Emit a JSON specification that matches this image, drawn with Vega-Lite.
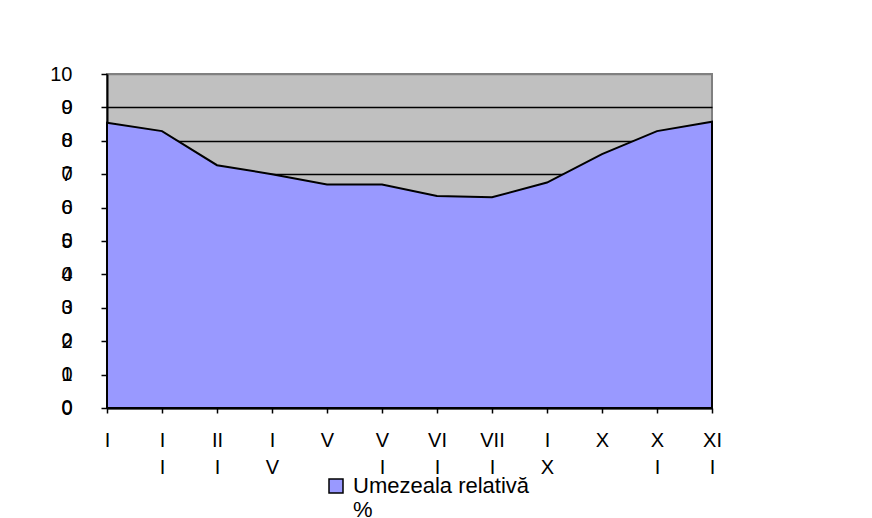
{
  "$schema": "https://vega.github.io/schema/vega-lite/v6.json",
  "width": 605,
  "height": 334,
  "autosize": {"type": "none"},
  "padding": {"left": 107, "top": 74, "right": 160, "bottom": 110},
  "background": "white",
  "data": {
    "values": [
      {"month": "I", "humidity": 85.4, "series": "Umezeala relativă %"},
      {"month": "II", "humidity": 82.9, "series": "Umezeala relativă %"},
      {"month": "III", "humidity": 72.7, "series": "Umezeala relativă %"},
      {"month": "IV", "humidity": 70.0, "series": "Umezeala relativă %"},
      {"month": "V", "humidity": 66.9, "series": "Umezeala relativă %"},
      {"month": "VI", "humidity": 66.9, "series": "Umezeala relativă %"},
      {"month": "VII", "humidity": 63.5, "series": "Umezeala relativă %"},
      {"month": "VIII", "humidity": 63.1, "series": "Umezeala relativă %"},
      {"month": "IX", "humidity": 67.5, "series": "Umezeala relativă %"},
      {"month": "X", "humidity": 76.0, "series": "Umezeala relativă %"},
      {"month": "XI", "humidity": 82.9, "series": "Umezeala relativă %"},
      {"month": "XII", "humidity": 85.7, "series": "Umezeala relativă %"}
    ]
  },
  "mark": {"type": "area", "stroke": "black", "strokeWidth": 2, "opacity": 1, "fillOpacity": 1},
  "encoding": {
    "x": {
      "field": "month",
      "type": "ordinal",
      "sort": null,
      "scale": {"type": "point", "padding": 0},
      "axis": {
        "title": null,
        "labelAngle": 0,
        "labelExpr": "length(datum.label) > 1 ? [substring(datum.label, 0, length(datum.label) - 1), substring(datum.label, length(datum.label) - 1)] : datum.label",
        "labelBaseline": "top",
        "labelAlign": "center",
        "labelLineHeight": 27,
        "labelPadding": 17,
        "labelFont": "Liberation Sans",
        "labelFontSize": 20,
        "labelColor": "black",
        "labelOverlap": false,
        "labelBound": false,
        "labelFlush": false,
        "tickSize": 5,
        "tickColor": "black",
        "tickWidth": 1.5,
        "domainColor": "black",
        "domainWidth": 2,
        "grid": false,
        "zindex": 1
      }
    },
    "y": {
      "field": "humidity",
      "type": "quantitative",
      "scale": {"domain": [0, 100], "nice": false, "zero": true},
      "axis": {
        "title": null,
        "values": [0, 10, 20, 30, 40, 50, 60, 70, 80, 90, 100],
        "labelExpr": "length(datum.label) > 1 ? [substring(datum.label, 0, length(datum.label) - 1), substring(datum.label, length(datum.label) - 1)] : [datum.label, '']",
        "labelBaseline": "middle",
        "labelAlign": "right",
        "labelLineHeight": 33,
        "labelOffset": 0,
        "labelPadding": 29,
        "labelFont": "Liberation Sans",
        "labelFontSize": 20,
        "labelColor": "black",
        "labelOverlap": false,
        "labelBound": false,
        "labelFlush": false,
        "tickSize": 6,
        "tickColor": "black",
        "tickWidth": 1.5,
        "domainColor": "black",
        "domainWidth": 2,
        "grid": true,
        "gridColor": {"condition": {"test": "datum.value == 100", "value": "#808080"}, "value": "black"},
        "gridWidth": 1.5,
        "gridOpacity": 1,
        "zindex": 0
      }
    },
    "color": {
      "field": "series",
      "type": "nominal",
      "scale": {"range": ["#9999FF"]},
      "legend": {
        "title": null,
        "orient": "none",
        "legendX": 218,
        "legendY": 401,
        "padding": 0,
        "symbolType": "square",
        "symbolSize": 196,
        "symbolStrokeColor": "black",
        "symbolStrokeWidth": 1.5,
        "symbolOpacity": 1,
        "labelExpr": "['Umezeala relativă', '%']",
        "labelFont": "Liberation Sans",
        "labelFontSize": 22,
        "labelColor": "black",
        "labelLimit": 400,
        "labelOffset": 6,
        "labelBaseline": "middle",
        "labelLineHeight": 28
      }
    }
  },
  "config": {
    "view": {"fill": "#C0C0C0", "stroke": "#808080", "strokeWidth": 2}
  }
}
